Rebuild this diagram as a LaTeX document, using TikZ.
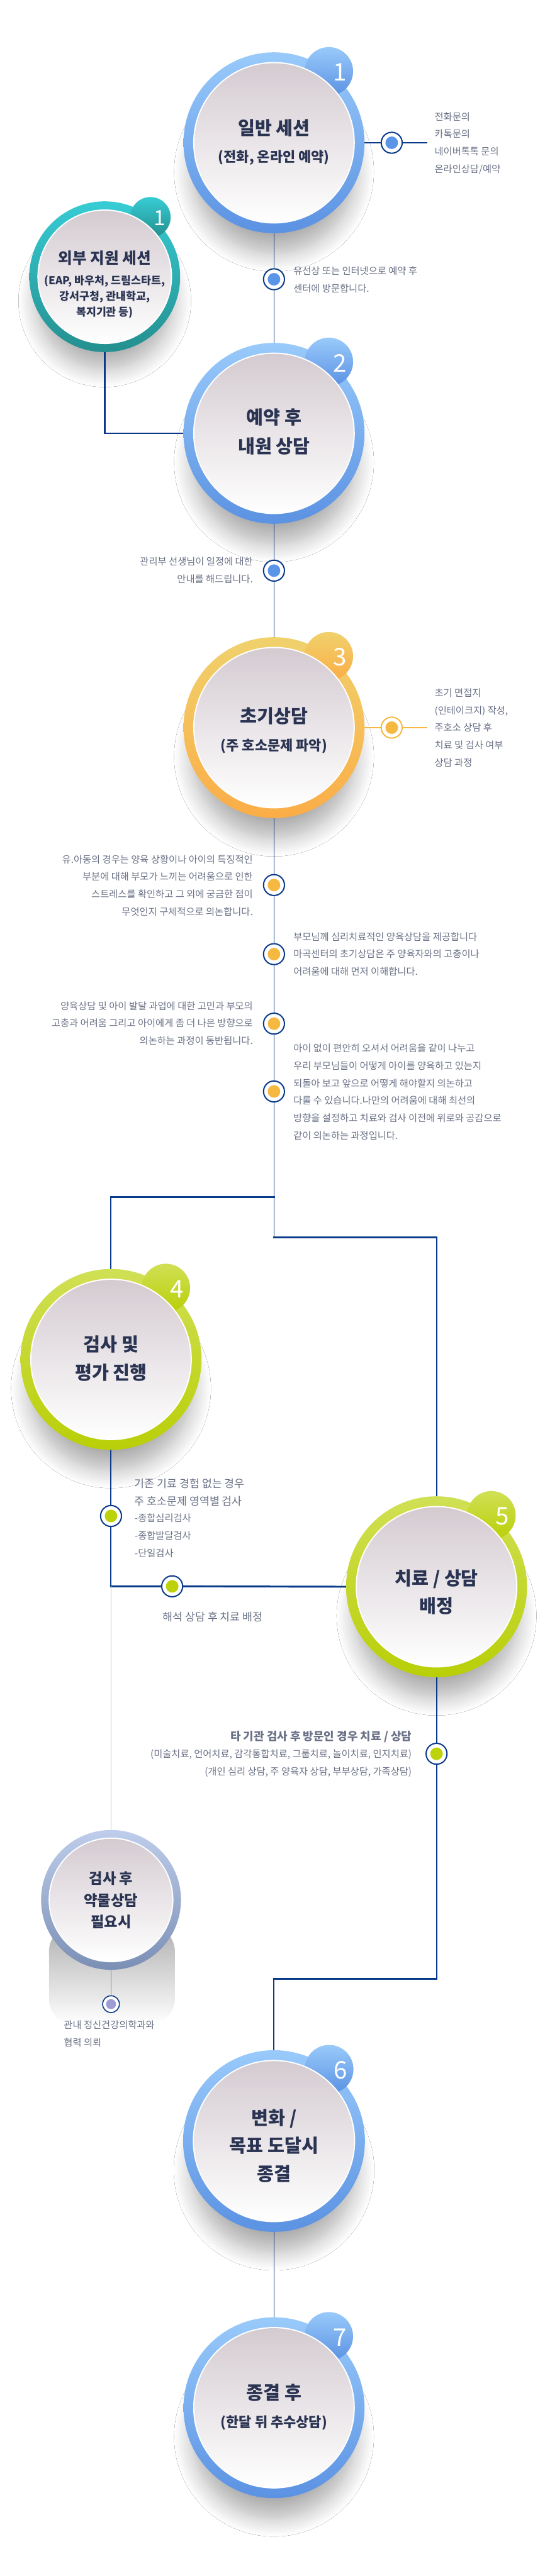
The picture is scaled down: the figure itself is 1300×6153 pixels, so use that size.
\documentclass[tikz,border=0pt]{standalone}
\usepackage{fontspec}
\setmainfont{Noto Sans CJK KR}
\usetikzlibrary{calc,shadows.blur}
\pgfdeclarelayer{back}
\pgfdeclarelayer{lines}
\pgfsetlayers{back,lines,main}

\definecolor{navy}{HTML}{0A3A8A}
\definecolor{blueT}{HTML}{99CAFB}
\definecolor{blueB}{HTML}{5B92E2}
\definecolor{tealT}{HTML}{37CCD4}
\definecolor{tealB}{HTML}{248F8F}
\definecolor{yelT}{HTML}{F0D16C}
\definecolor{yelB}{HTML}{FBAD47}
\definecolor{grnT}{HTML}{D0E055}
\definecolor{grnB}{HTML}{B9CF07}
\definecolor{purT}{HTML}{BECDEB}
\definecolor{purB}{HTML}{7B8FB5}
\definecolor{innerT}{HTML}{D4CBD1}
\definecolor{innerM}{HTML}{F3F1F2}
\definecolor{bodyc}{HTML}{6A7186}
\definecolor{titlec}{HTML}{2A3452}
\definecolor{dotblue}{HTML}{5B95E8}
\definecolor{dotorange}{HTML}{F5B942}
\definecolor{dotgreen}{HTML}{BCD20B}
\definecolor{dotpurple}{HTML}{9E9CD3}
\definecolor{lightline}{HTML}{C8C8C8}
\definecolor{midgray}{HTML}{8A8A8A}

\tikzset{
  ringnode/.style={circle, inner sep=0pt, outer sep=0pt, draw=none},
  ringshadow/.style={blur shadow={shadow xshift=0pt, shadow yshift=0pt, shadow blur radius=22pt, shadow blur steps=12, shadow opacity=32}},
  stepttl/.style={font=\bfseries\fontsize{22}{33.5}\selectfont, text=titlec, align=center, inner sep=0pt},
  stepsub/.style={font=\bfseries\fontsize{16.5}{20}\selectfont, text=titlec, align=center, inner sep=0pt},
  bodytxt/.style={font=\fontsize{11.5}{20.8}\selectfont, text=bodyc, inner sep=0pt},
  badgedigit/.style={text=white, inner sep=0pt},
  dotmk/.style={circle, draw=navy, line width=1.5pt, fill=white, minimum size=25pt, inner sep=0pt,
    path picture={\fill[#1] (path picture bounding box.center) circle[radius=7.5pt];}},
  smallmk/.style={circle, draw=navy, line width=1.2pt, fill=white, minimum size=20pt, inner sep=0pt,
    path picture={\fill[#1] (path picture bounding box.center) circle[radius=6pt];}},
  thinln/.style={navy, line width=1.3pt},
  midln/.style={navy, line width=1.6pt, line cap=rect},
  thickln/.style={navy, line width=2.2pt, line cap=rect},
}

\newcommand{\StepCircle}[7]{%
  \begin{pgfonlayer}{back}
    \path[ringshadow] (#2,#3+0.32*#4) circle[radius=0.9*#4];
  \end{pgfonlayer}
  \node[ringnode, minimum size=#4pt, top color=#5T, bottom color=#5B] (#1) at (#2,#3) {};
  \shade[top color=#5T, bottom color=#5B] ($(#1.center)+(0.606*#4,-0.79*#4)$) circle[radius=0.268*#4];
  \fill[white] (#1.center) circle[radius=0.893*#4];
  \shade[top color=innerT, middle color=innerM, bottom color=white] (#1.center) circle[radius=0.893*#4-3];
  \node[badgedigit, font=\fontsize{#7}{#7}\selectfont] (#1d) at ($(#1.center)+(0.73*#4,-0.778*#4)$) {#6};
}

\begin{document}
\begin{tikzpicture}[x=0.5pt, y=-0.5pt]
\begin{pgfonlayer}{back}
\fill[white] (0,0) rectangle (1300,6153);
\end{pgfonlayer}
\useasboundingbox (0,0) rectangle (1300,6153);

% ---- step circles ----
\StepCircle{c1}{654}{341}{216}{blue}{1}{29}
\StepCircle{t1}{250}{661}{180}{teal}{1}{25}
\StepCircle{c2}{654}{1035}{216}{blue}{2}{29}
\StepCircle{c3}{654}{1738}{216}{yel}{3}{29}
\StepCircle{c4}{265}{3247}{216}{grn}{4}{29}
\StepCircle{c5}{1042}{3790}{216}{grn}{5}{29}

\begin{pgfonlayer}{back}
\shade[top color=gray!62, middle color=gray!52, bottom color=white, rounded corners=30pt] (117,4600) rectangle (417,4835);
\end{pgfonlayer}
\node[ringnode, minimum size=167pt, top color=purT, bottom color=purB] (p) at (265,4538) {};
\fill[white] (p.center) circle[radius=149];
\shade[top color=innerT, middle color=innerM, bottom color=white] (p.center) circle[radius=146];

\StepCircle{c6}{654}{5114}{217}{blue}{6}{29}
\StepCircle{c7}{654}{5751}{216}{blue}{7}{29}

% ---- titles ----
\node[stepttl] (c1t) at (654,305) {일반 세션};
\node[stepsub] (c1s) at (654,377) {(전화, 온라인 예약)};
\node[font=\bfseries\fontsize{18.5}{20}\selectfont, text=titlec, inner sep=0pt] (t1t) at (250,617) {외부 지원 세션};
\node[font=\bfseries\fontsize{13}{18.5}\selectfont, text=titlec, align=center, inner sep=0pt] (t1s) at (250,709) {(EAP, 바우처, 드림스타트,\\강서구청, 관내학교,\\복지기관 등)};
\node[stepttl, font=\bfseries\fontsize{22}{34.5}\selectfont] (c2t) at (654,1032) {예약 후\\내원 상담};
\node[stepttl] (c3t) at (654,1710) {초기상담};
\node[stepsub] (c3s) at (654,1782) {(주 호소문제 파악)};
\node[stepttl] (c4t) at (265,3245) {검사 및\\평가 진행};
\node[stepttl] (c5t) at (1042,3803) {치료 / 상담\\배정};
\node[font=\bfseries\fontsize{17.5}{26}\selectfont, text=titlec, align=center, inner sep=0pt] (pt) at (265,4539) {검사 후\\약물상담\\필요시};
\node[stepttl] (c6t) at (654,5125) {변화 /\\목표 도달시\\종결};
\node[stepttl] (c7t) at (654,5715) {종결 후};
\node[stepsub] (c7s) at (654,5787) {(한달 뒤 추수상담)};

% ---- markers ----
\node[dotmk=dotblue] (m1r) at (935,341) {};
\node[dotmk=dotblue] (m12) at (654,667) {};
\node[dotmk=dotblue] (m23) at (654,1363) {};
\node[dotmk=dotorange, draw=dotorange] (m3r) at (935,1738) {};
\node[dotmk=dotorange] (m31) at (654,2114) {};
\node[dotmk=dotorange] (m32) at (654,2279) {};
\node[dotmk=dotorange] (m33) at (654,2445) {};
\node[dotmk=dotorange] (m34) at (654,2607) {};
\node[dotmk=dotgreen] (m41) at (265,3621) {};
\node[dotmk=dotgreen] (m42) at (411,3789) {};
\node[dotmk=dotgreen] (m5) at (1042,4189) {};
\node[smallmk=dotpurple] (mp) at (265,4787) {};

% ---- coordinates ----
\coordinate (e1) at (1020,341);
\coordinate (e3) at (1020,1738);
\coordinate (br) at (654,2860);
\coordinate (brL) at (265,2860);
\coordinate (br2) at (654,2956);
\coordinate (brR) at (1042,2956);
\coordinate (k) at (265,3789);
\coordinate (j1) at (1042,4727);
\coordinate (j2) at (654,4727);

% ---- connectors ----
\begin{pgfonlayer}{lines}
\draw[navy, line width=2pt] (c1.east) -- (m1r) -- (e1);
\draw[thinln] (c1.south) -- (m12) -- (c2.north);
\draw[navy, line width=2pt] (t1.south) |- (c2.west);
\draw[thinln] (c2.south) -- (m23) -- (c3.north);
\draw[dotorange, line width=2pt] (c3.east) -- (m3r) -- (e3);
\draw[thinln] (c3.south) -- (m31) -- (m32) -- (m33) -- (m34) -- (br2);
\draw[thickln] (br) -- (brL);
\draw[midln] (brL) -- (c4.north);
\draw[thickln] (br2) -- (brR);
\draw[midln] (brR) -- (c5.north);
\draw[midln] (c4.south) -- (m41) -- (k);
\draw[thickln] (k) -- (m42) -- (c5.west);
\draw[lightline, line width=1pt] (k) -- (p.north);
\draw[midgray, line width=1pt] (p.south) -- (mp);
\draw[midln] (c5.south) -- (m5) -- (j1);
\draw[thickln] (j1) -- (j2);
\draw[midln] (j2) -- (c6.north);
\draw[thinln] (c6.south) -- (c7.north);
\end{pgfonlayer}

% ---- texts ----
\node[bodytxt, anchor=west, align=left] (tx1) at (1037,342) {전화문의\\카톡문의\\네이버톡톡 문의\\온라인상담/예약};
\node[bodytxt, anchor=west, align=left] (tx2) at (700,668) {유선상 또는 인터넷으로 예약 후\\센터에 방문합니다.};
\node[bodytxt, anchor=east, align=right] (tx3) at (604,1362) {관리부 선생님이 일정에 대한\\안내를 해드립니다.};
\node[bodytxt, anchor=west, align=left] (tx4) at (1037,1738) {초기 면접지\\(인테이크지) 작성,\\주호소 상담 후\\치료 및 검사 여부\\상담 과정};
\node[bodytxt, anchor=east, align=right] (tx5) at (604,2115) {유.아동의 경우는 양육 상황이나 아이의 특징적인\\부분에 대해 부모가 느끼는 어려움으로 인한\\스트레스를 확인하고 그 외에 궁금한 점이\\무엇인지 구체적으로 의논합니다.};
\node[bodytxt, anchor=west, align=left] (tx6) at (700,2279) {부모님께 심리치료적인 양육상담을 제공합니다\\마곡센터의 초기상담은 주 양육자와의 고충이나\\어려움에 대해 먼저 이해합니다.};
\node[bodytxt, anchor=east, align=right] (tx7) at (604,2444) {양육상담 및 아이 발달 과업에 대한 고민과 부모의\\고충과 어려움 그리고 아이에게 좀 더 나은 방향으로\\의논하는 과정이 동반됩니다.};
\node[bodytxt, anchor=west, align=left] (tx8) at (700,2608) {아이 없이 편안히 오셔서 어려움을 같이 나누고\\우리 부모님들이 어떻게 아이를 양육하고 있는지\\되돌아 보고 앞으로 어떻게 해야할지 의논하고\\다룰 수 있습니다.나만의 어려움에 대해 최선의\\방향을 설정하고 치료와 검사 이전에 위로와 공감으로\\같이 의논하는 과정입니다.};
\node[bodytxt, font=\fontsize{13}{21}\selectfont, anchor=west, align=left] (tx9) at (321,3564) {기존 기료 경험 없는 경우\\주 호소문제 영역별 검사};
\node[bodytxt, anchor=west, align=left] (tx10) at (321,3668) {-종합심리검사\\-종합발달검사\\-단일검사};
\node[bodytxt, font=\fontsize{13}{16}\selectfont, anchor=west] (tx11) at (388,3862) {해석 상담 후 치료 배정};
\node[bodytxt, font=\bfseries\fontsize{13.5}{16}\selectfont, anchor=east] (tx12) at (983,4148) {타 기관 검사 후 방문인 경우 치료 / 상담};
\node[bodytxt, font=\fontsize{11.5}{21}\selectfont, anchor=east, align=right] (tx13) at (983,4211) {(미술치료, 언어치료, 감각통합치료, 그룹치료, 놀이치료, 인지치료)\\(개인 심리 상담, 주 양육자 상담, 부부상담, 가족상담)};
\node[bodytxt, anchor=west, align=left] (tx14) at (152,4858) {관내 정신건강의학과와\\협력 의뢰};
\end{tikzpicture}
\end{document}
